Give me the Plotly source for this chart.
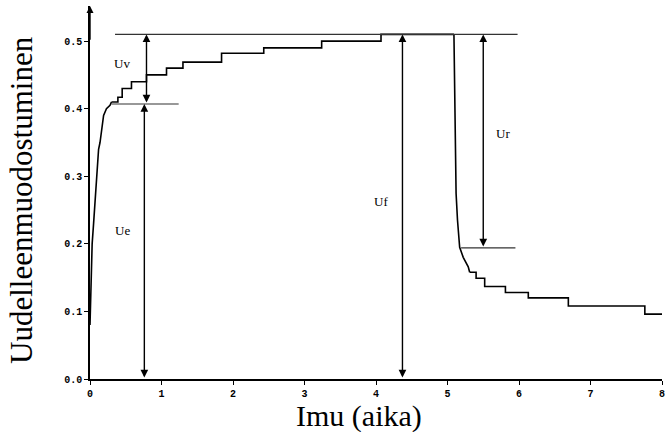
import plotly.graph_objects as go

# --- data ---
rise_t = [0.0, 0.02, 0.03, 0.05, 0.07, 0.10, 0.12, 0.14, 0.17, 0.19, 0.23, 0.28, 0.30]
rise_v = [0.08, 0.17, 0.20, 0.23, 0.265, 0.31, 0.34, 0.35, 0.373, 0.39, 0.40, 0.405, 0.41]

plateau_t = [0.30, 0.39, 0.45, 0.58, 0.79, 1.07, 1.30, 1.84, 2.43, 3.24, 4.07, 5.09]
plateau_v = [0.41, 0.417, 0.43, 0.44, 0.45, 0.46, 0.469, 0.482, 0.49, 0.50, 0.51, 0.51]

drop_t = [5.09, 5.10, 5.11, 5.12, 5.14, 5.17, 5.22, 5.29, 5.31]
drop_v = [0.51, 0.42, 0.32, 0.275, 0.235, 0.195, 0.18, 0.166, 0.158]

tail_t = [5.31, 5.40, 5.52, 5.81, 6.13, 6.69, 7.76, 8.0]
tail_v = [0.158, 0.149, 0.137, 0.128, 0.12, 0.108, 0.096, 0.096]

ref_level = [0.51, 0.407, 0.194]
ref_start = [0.35, 0.30, 5.19]
ref_end = [5.98, 1.24, 5.95]

arrow_x = [0.79, 0.76, 4.37, 5.50]
arrow_from = [0.407, 0.0, 0.0, 0.194]
arrow_to = [0.51, 0.407, 0.51, 0.51]

label_text = ["Uv", "Ue", "Uf", "Ur"]
label_x = [0.45, 0.46, 4.07, 5.77]
label_y = [0.467, 0.22, 0.262, 0.364]

x_ticks = [0, 1, 2, 3, 4, 5, 6, 7, 8]
y_ticks = [0.0, 0.1, 0.2, 0.3, 0.4, 0.5]

x_title = "Imu (aika)"
y_title = "Uudelleenmuodostuminen"

fig = go.Figure()

line_style = dict(color="black", width=1.6)
fig.add_trace(go.Scatter(x=rise_t, y=rise_v, mode="lines", line=line_style, showlegend=False))
fig.add_trace(go.Scatter(x=plateau_t, y=plateau_v, mode="lines", line=dict(shape="hv", **line_style), showlegend=False))
fig.add_trace(go.Scatter(x=drop_t, y=drop_v, mode="lines", line=line_style, showlegend=False))
fig.add_trace(go.Scatter(x=tail_t, y=tail_v, mode="lines", line=dict(shape="hv", **line_style), showlegend=False))

for lv, s, e in zip(ref_level, ref_start, ref_end):
    fig.add_trace(go.Scatter(x=[s, e], y=[lv, lv], mode="lines",
                             line=dict(color="#333333", width=1.2), showlegend=False))

annotations = []
for ax_, y0, y1 in zip(arrow_x, arrow_from, arrow_to):
    annotations.append(dict(x=ax_, y=y1, ax=ax_, ay=y0, xref="x", yref="y", axref="x", ayref="y",
                            text="", showarrow=True, arrowhead=2, startarrowhead=2,
                            arrowside="end+start", arrowsize=1.1, startarrowsize=1.1,
                            arrowwidth=1.4, arrowcolor="black"))

for t, lx, ly in zip(label_text, label_x, label_y):
    annotations.append(dict(x=lx, y=ly, xref="x", yref="y", text=t, showarrow=False,
                            font=dict(family="Liberation Serif", size=13, color="black")))

# y-axis arrow at top
annotations.append(dict(x=0, y=0.552, ax=0, ay=0.50, xref="x", yref="y", axref="x", ayref="y",
                        text="", showarrow=True, arrowhead=2, arrowsize=1.0, arrowwidth=1.4,
                        arrowcolor="black"))

annotations.append(dict(x=0.471, y=-0.098, xref="paper", yref="paper", text=x_title, showarrow=False,
                        xanchor="center", yanchor="middle",
                        font=dict(family="Liberation Serif", size=30, color="black")))
annotations.append(dict(x=-0.12, y=0.481, xref="paper", yref="paper", text=y_title, showarrow=False,
                        textangle=-90, xanchor="center", yanchor="middle",
                        font=dict(family="Liberation Serif", size=31, color="black")))

tick_font = dict(family="Liberation Mono", size=10, color="black", weight="bold")

fig.update_layout(
    width=667, height=432,
    margin=dict(l=90, r=5, t=6, b=53),
    paper_bgcolor="white", plot_bgcolor="white",
    annotations=annotations,
    xaxis=dict(range=[0, 8], tickvals=x_ticks, ticktext=[str(v) for v in x_ticks],
               showgrid=False, zeroline=False, showline=True, linecolor="black", linewidth=1.5,
               ticks="outside", ticklen=4, tickwidth=1.2, tickcolor="black", tickfont=tick_font,
               automargin=False),
    yaxis=dict(range=[0, 0.552], tickvals=y_ticks, ticktext=[f"{v:.1f}" for v in y_ticks],
               showgrid=False, zeroline=False, showline=True, linecolor="black", linewidth=1.5,
               ticks="outside", ticklen=4, tickwidth=1.2, tickcolor="black", tickfont=tick_font,
               automargin=False),
)

fig.write_html("out.html")
